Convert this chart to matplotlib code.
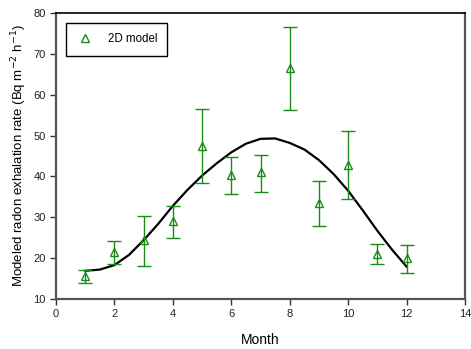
import numpy as np
import matplotlib
matplotlib.use("Agg")
import matplotlib.pyplot as plt
from matplotlib.lines import Line2D

### measured (2D model) monthly values with error bar limits
months = [1, 2, 3, 4, 5, 6, 7, 8, 9, 10, 11, 12]
rate = [15.7, 21.5, 24.5, 29.0, 47.5, 40.3, 41.0, 66.5, 33.5, 42.8, 21.0, 20.0]
rate_lo = [14.0, 18.5, 18.0, 25.0, 38.5, 35.7, 36.3, 56.3, 27.8, 34.5, 18.5, 16.3]
rate_hi = [17.0, 24.3, 30.3, 32.7, 56.5, 44.7, 45.3, 76.5, 39.0, 51.0, 23.5, 23.2]

### fitted seasonal curve, read at half-month steps
curve_month = [1, 1.5, 2, 2.5, 3, 3.5, 4, 4.5, 5, 5.5, 6, 6.5, 7, 7.5, 8,
               8.5, 9, 9.5, 10, 10.5, 11, 11.5, 12]
curve_rate = [16.9, 17.2, 18.3, 20.8, 24.4, 28.4, 32.8, 36.7, 40.2, 43.2, 45.9,
              48.0, 49.2, 49.3, 48.2, 46.6, 44.0, 40.6, 36.5, 31.7, 26.7, 22.1, 17.9]

plt.rcParams.update({"font.family": ["Liberation Sans", "DejaVu Sans"],
                     "font.size": 8})

fig = plt.figure(figsize=(4.71, 3.49), dpi=100)
ax = fig.add_axes([56/471, 1-299/349, 409/471, 286/349])

rate = np.array(rate)
yerr = [rate - np.array(rate_lo), np.array(rate_hi) - rate]

green = '#1a8c1a'
ax.plot(curve_month, curve_rate, '-', color='black', lw=1.6, zorder=2,
        solid_joinstyle='round')
ax.errorbar(months, rate, yerr=yerr, fmt='^', mfc='none', mec=green, ms=6,
            mew=1.0, ecolor=green, elinewidth=1.0, capsize=5, capthick=1.0,
            zorder=3)

ax.set_xlim(0, 14)
ax.set_ylim(10, 80)
ax.set_xticks(np.arange(0, 15, 2))
ax.set_yticks(np.arange(10, 81, 10))
ax.tick_params(direction='out', length=4, width=1, colors='#333333',
               labelcolor='#222222', labelsize=8, top=False, right=False)

for side in ['left', 'bottom', 'right']:
    ax.spines[side].set_color('#555555')
    ax.spines[side].set_linewidth(1.6)
ax.spines['top'].set_color('black')
ax.spines['top'].set_linewidth(1.2)

ax.set_xlabel('Month', fontsize=10, labelpad=10)
ax.set_ylabel(r'Modeled radon exhalation rate (Bq m$^{-2}$ h$^{-1}$)',
              fontsize=9.5, labelpad=3)

# legend shows only the open triangle, no error bar
handle = Line2D([], [], ls='none', marker='^', mfc='none', mec=green,
                ms=6, mew=1.0)
leg = ax.legend([handle], ['2D model'], loc='upper left',
                bbox_to_anchor=(10/409, 1-10/286),
                fancybox=False, edgecolor='black', framealpha=1,
                fontsize=8.3, handlelength=1.5, borderpad=0.9,
                handletextpad=1.2, borderaxespad=0)
leg.get_frame().set_linewidth(1.0)

fig.savefig('out.png', dpi=100)
